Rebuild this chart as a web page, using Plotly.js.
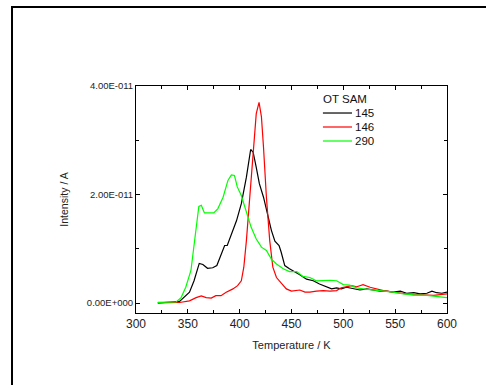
<!DOCTYPE html>
<html>
<head>
<meta charset="utf-8">
<script src="https://cdn.plot.ly/plotly-3.0.1.min.js"></script>
<style>
html,body{margin:0;padding:0;background:#fff;}
#chart{width:486px;height:385px;}
</style>
</head>
<body>
<div id="chart"></div>
<script>
// Temperature (K) and intensity (A)
var t145 = [321, 342, 351.6, 356, 361, 364.5, 369, 374, 378, 382, 385.5, 388, 392, 397, 401.6, 406.5, 410.6, 413, 416, 419, 423, 427, 430.6, 434, 438, 440, 443.5, 448, 453, 458, 464.5, 471, 477, 484, 488.7, 493.5, 498, 503, 509.7, 516, 522.6, 529, 535.5, 542, 548, 555, 561, 568, 574, 580.6, 585.5, 590, 595, 600];
var i145 = [0.0, 0.03e-11, 0.2e-11, 0.41e-11, 0.73e-11, 0.71e-11, 0.64e-11, 0.65e-11, 0.69e-11, 0.9e-11, 1.06e-11, 1.06e-11, 1.27e-11, 1.52e-11, 1.83e-11, 2.32e-11, 2.83e-11, 2.78e-11, 2.5e-11, 2.2e-11, 1.95e-11, 1.64e-11, 1.34e-11, 1.14e-11, 1.06e-11, 0.94e-11, 0.69e-11, 0.63e-11, 0.58e-11, 0.52e-11, 0.44e-11, 0.41e-11, 0.35e-11, 0.3e-11, 0.26e-11, 0.28e-11, 0.26e-11, 0.29e-11, 0.26e-11, 0.24e-11, 0.26e-11, 0.24e-11, 0.22e-11, 0.22e-11, 0.2e-11, 0.22e-11, 0.18e-11, 0.19e-11, 0.17e-11, 0.18e-11, 0.22e-11, 0.19e-11, 0.18e-11, 0.2e-11];

var t146 = [321, 342, 351.6, 358, 363, 367.7, 372.6, 377, 382, 387, 393.5, 398, 401.6, 404, 406.5, 409.7, 413, 416, 418.7, 421, 423, 425.8, 429, 432, 435.5, 440, 445, 450, 455, 458, 463, 467.7, 474, 480.6, 487, 493.5, 498, 503, 508, 513, 519, 525.8, 532, 538.7, 548, 558, 568, 577, 587, 600];
var i146 = [0.0, 0.01e-11, 0.04e-11, 0.1e-11, 0.13e-11, 0.1e-11, 0.09e-11, 0.135e-11, 0.135e-11, 0.2e-11, 0.26e-11, 0.32e-11, 0.41e-11, 0.66e-11, 1.15e-11, 1.95e-11, 2.81e-11, 3.49e-11, 3.7e-11, 3.43e-11, 2.87e-11, 1.95e-11, 1.15e-11, 0.66e-11, 0.47e-11, 0.38e-11, 0.26e-11, 0.22e-11, 0.23e-11, 0.24e-11, 0.2e-11, 0.2e-11, 0.22e-11, 0.23e-11, 0.22e-11, 0.23e-11, 0.28e-11, 0.3e-11, 0.32e-11, 0.3e-11, 0.34e-11, 0.29e-11, 0.26e-11, 0.23e-11, 0.2e-11, 0.17e-11, 0.15e-11, 0.15e-11, 0.14e-11, 0.17e-11];

var t290 = [321, 338.7, 343.5, 348, 353, 356, 358.7, 360.6, 363, 366, 371, 375, 379, 384, 388.7, 392, 395, 397.7, 401.6, 406.5, 411, 416, 421, 425.8, 430.6, 435.5, 442, 448, 455, 461, 467.7, 474, 480.6, 487, 493.5, 500, 506, 513, 519, 529, 538.7, 548, 558, 568, 580.6, 600];
var i290 = [0.01e-11, 0.02e-11, 0.1e-11, 0.29e-11, 0.6e-11, 1.03e-11, 1.52e-11, 1.78e-11, 1.8e-11, 1.66e-11, 1.66e-11, 1.66e-11, 1.74e-11, 1.95e-11, 2.26e-11, 2.36e-11, 2.35e-11, 2.14e-11, 1.98e-11, 1.7e-11, 1.4e-11, 1.18e-11, 1.03e-11, 0.97e-11, 0.81e-11, 0.72e-11, 0.63e-11, 0.58e-11, 0.58e-11, 0.49e-11, 0.47e-11, 0.41e-11, 0.42e-11, 0.42e-11, 0.41e-11, 0.34e-11, 0.33e-11, 0.28e-11, 0.26e-11, 0.24e-11, 0.23e-11, 0.2e-11, 0.17e-11, 0.15e-11, 0.14e-11, 0.1e-11];

var seriesNames = ["145", "146", "290"];
var seriesColors = ["#000000", "#ff0000", "#00ff00"];
var legendTitle = "OT SAM";
var xTickVals = [300, 350, 400, 450, 500, 550, 600];
var yTickVals = [0, 2e-11, 4e-11];
var yTickText = ["0.00E+000", "2.00E-011", "4.00E-011"];
var yMinorVals = [1e-11, 3e-11];

var FONT = "Liberation Sans, Arial, sans-serif";
var xs = [t145, t146, t290];
var ys = [i145, i146, i290];

var traces = seriesNames.map(function (n, k) {
  return {x: xs[k], y: ys[k], name: n, mode: "lines", showlegend: false,
          line: {color: seriesColors[k], width: 1.2}};
});

// legend drawn as text + short line samples in paper coordinates
var legX0 = 0.601, legX1 = 0.6945, legTextX = 0.698;
var legTitleY = 0.9427, legYs = [0.881, 0.8194, 0.7577];
var annotations = [{
  xref: "paper", yref: "paper", x: 0.594, y: legTitleY, xanchor: "left", yanchor: "middle",
  text: legendTitle, showarrow: false, font: {family: FONT, size: 11.5, color: "#111"}
}];
var shapes = [
  {type: "line", xref: "paper", yref: "paper", x0: -0.3987, x1: 1.13, y0: 1.348, y1: 1.348, line: {color: "#000", width: 2}},
  {type: "line", xref: "paper", yref: "paper", x0: -0.3987, x1: -0.3987, y0: 1.352, y1: -0.33, line: {color: "#000", width: 2}}
];
seriesNames.forEach(function (n, k) {
  shapes.push({type: "line", xref: "paper", yref: "paper", x0: legX0, x1: legX1, y0: legYs[k], y1: legYs[k],
               line: {color: seriesColors[k], width: 1.2}});
  annotations.push({xref: "paper", yref: "paper", x: legTextX, y: legYs[k], xanchor: "left", yanchor: "middle",
                    text: n, showarrow: false, font: {family: FONT, size: 11.5, color: "#111"}});
});

var layout = {
  width: 486, height: 385,
  margin: {l: 136, r: 39, t: 86, b: 72, pad: 0},
  paper_bgcolor: "#ffffff", plot_bgcolor: "#ffffff",
  font: {family: FONT, color: "#222"},
  showlegend: false,
  xaxis: {
    range: [300, 600], showgrid: false, zeroline: false,
    showline: true, linecolor: "#000", linewidth: 1, mirror: "ticks",
    ticks: "inside", ticklen: 4, tickcolor: "#000", tickwidth: 1,
    tickmode: "array", tickvals: xTickVals,
    tickfont: {family: FONT, size: 12, color: "#222"},
    minor: {dtick: 25, tick0: 300, ticks: "inside", ticklen: 3, tickcolor: "#000", tickwidth: 1, showgrid: false},
    title: {text: "Temperature / K", font: {family: FONT, size: 11, color: "#222"}, standoff: 10}
  },
  yaxis: {
    range: [-1.84e-12, 4e-11], showgrid: false, zeroline: false,
    showline: true, linecolor: "#000", linewidth: 1, mirror: "ticks",
    ticks: "inside", ticklen: 4, tickcolor: "#000", tickwidth: 1,
    tickmode: "array", tickvals: yTickVals, ticktext: yTickText,
    tickfont: {family: FONT, size: 9.5, color: "#222"},
    minor: {tickmode: "array", tickvals: yMinorVals, ticks: "inside", ticklen: 3, tickcolor: "#000", tickwidth: 1, showgrid: false},
    title: {text: "Intensity / A", font: {family: FONT, size: 10.5, color: "#222"}, standoff: 16}
  },
  shapes: shapes,
  annotations: annotations
};

Plotly.newPlot("chart", traces, layout, {staticPlot: true, displayModeBar: false});
</script>
</body>
</html>
